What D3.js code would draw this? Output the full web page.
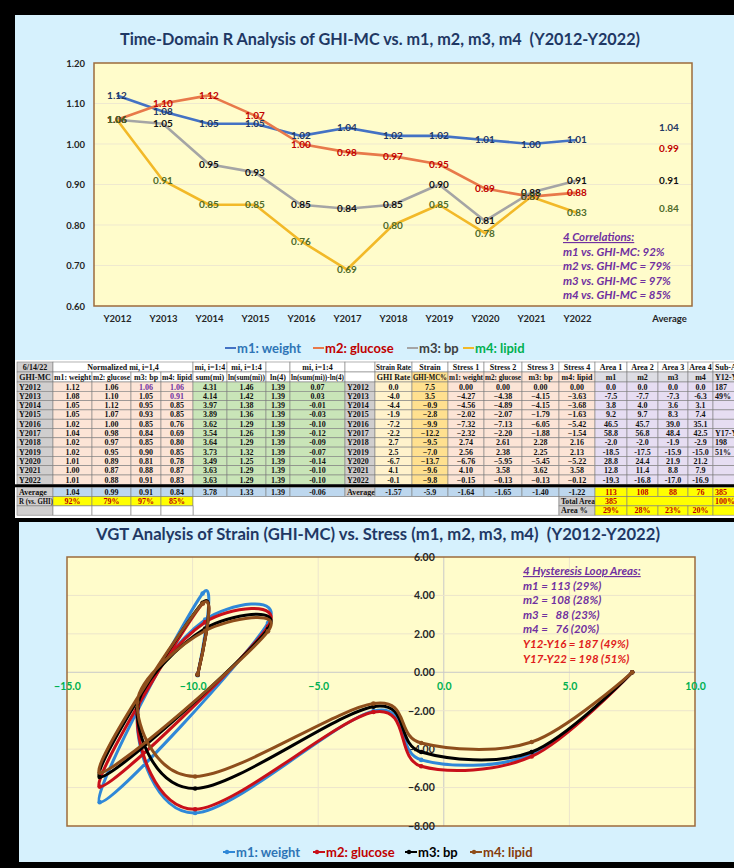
<!DOCTYPE html>
<html>
<head>
<meta charset="utf-8">
<script src="https://cdn.jsdelivr.net/npm/d3@7"></script>
<style>
  body { margin: 0; background: #000; }
  svg { display: block; }
  text { font-family: Lato, "Open Sans", sans-serif; }
  .cell { font-family: "Liberation Serif", "DejaVu Serif", serif; font-weight: bold; font-size: 8px; }
</style>
</head>
<body>
<div id="vis"></div>
<script>
// ---- data ----
var years = ["Y2012","Y2013","Y2014","Y2015","Y2016","Y2017","Y2018","Y2019","Y2020","Y2021","Y2022"];
var xCats = years.concat(["", "Average"]);
var names = ["m1: weight","m2: glucose","m3: bp","m4: lipid"];

var m1 = [1.12,1.08,1.05,1.05,1.02,1.04,1.02,1.02,1.01,1.00,1.01];
var m2 = [1.06,1.10,1.12,1.07,1.00,0.98,0.97,0.95,0.89,0.87,0.88];
var m3 = [1.06,1.05,0.95,0.93,0.85,0.84,0.85,0.90,0.81,0.88,0.91];
var m4 = [1.06,0.91,0.85,0.85,0.76,0.69,0.80,0.85,0.78,0.87,0.83];
var avgM = [1.04,0.99,0.91,0.84];
var yTicksTop = [0.6,0.7,0.8,0.9,1.0,1.1,1.2];

var sumMi   = ["4.31","4.14","3.97","3.89","3.62","3.54","3.64","3.73","3.49","3.63","3.63"];
var lnSum   = ["1.46","1.42","1.38","1.36","1.29","1.26","1.29","1.32","1.25","1.29","1.29"];
var ln4     = ["1.39","1.39","1.39","1.39","1.39","1.39","1.39","1.39","1.39","1.39","1.39"];
var lnDiff  = ["0.07","0.03","-0.01","-0.03","-0.10","-0.12","-0.09","-0.07","-0.14","-0.10","-0.10"];
var ghiRate = ["0.0","-4.0","-4.4","-1.9","-7.2","-2.2","2.7","2.5","-6.7","4.1","-0.1"];

var strain = [7.5,3.5,-0.9,-2.8,-9.9,-12.2,-9.5,-7.0,-13.7,-9.6,-9.8];
var stress1 = [0.00,-4.27,-4.56,-2.02,-7.32,-2.32,2.74,2.56,-6.76,4.10,-0.15];
var stress2 = [0.00,-4.38,-4.89,-2.07,-7.13,-2.20,2.61,2.38,-5.95,3.58,-0.13];
var stress3 = [0.00,-4.15,-4.15,-1.79,-6.05,-1.88,2.28,2.25,-5.45,3.62,-0.13];
var stress4 = [0.00,-3.63,-3.68,-1.63,-5.42,-1.54,2.16,2.13,-5.22,3.58,-0.12];

var area1 = ["0.0","-7.5","3.8","9.2","46.5","58.8","-2.0","-18.5","28.8","12.8","-19.3"];
var area2 = ["0.0","-7.7","4.0","9.7","45.7","56.8","-2.0","-17.5","24.4","11.4","-16.8"];
var area3 = ["0.0","-7.3","3.6","8.3","39.0","48.4","-1.9","-15.9","21.9","8.8","-17.0"];
var area4 = ["0.0","-6.3","3.1","7.4","35.1","42.5","-2.9","-15.0","21.2","7.9","-16.9"];
var subArea = ["187","49%","","","","Y17-Y22","198","51%","","",""];

var avgRow = ["Average","1.04","0.99","0.91","0.84","3.78","1.33","1.39","-0.06","Average",
              "-1.57","-5.9","-1.64","-1.65","-1.40","-1.22","113","108","88","76","385"];
var rRow = ["92%","79%","97%","85%"];
var areaPct = ["29%","28%","23%","20%"];

var header1 = ["6/14/22","Normalized mi, i=1,4","","","","mi, i=1:4","mi, i=1:4","","mi, i=1:4","",
               "Strain Rate","Strain","Stress 1","Stress 2","Stress 3","Stress 4","Area 1","Area 2","Area 3","Area 4","Sub-Area"];
var header2 = ["GHI-MC","m1: weight","m2: glucose","m3: bp","m4: lipid","sum(mi)","ln(sum(mi))","ln(4)","ln(sum(mi))-ln(4)","",
               "GHI Rate","GHI-MC%","m1: weight","m2: glucose","m3: bp","m4: lipid","m1","m2","m3","m4","Y12-Y16"];

var correlations = ["4 Correlations:","m1 vs. GHI-MC: 92%","m2 vs. GHI-MC = 79%","m3 vs. GHI-MC = 97%","m4 vs. GHI-MC = 85%"];
var loopAreas = ["4 Hysteresis Loop Areas:","m1 = 113 (29%)","m2 = 108 (28%)","m3 =   88 (23%)","m4 =   76 (20%)",
                 "Y12-Y16 = 187 (49%)","Y17-Y22 = 198 (51%)"];
var yTicksBot = [-8,-6,-4,-2,0,2,4,6];
var xTicksBot = [-15,-10,-5,0,5,10];

// ---- styling ----
var lineColors  = ["#4472C4","#E8794A","#A5A5A5","#F2B928"];
var labelColors = ["#1F3864","#C00000","#111111","#4E6B2A"];
var legendText  = ["#2E75B6","#C00000","#404040","#00B050"];
var vgtColors   = ["#2F88D8","#C8101A","#000000","#8E4E1C"];
var vgtLegend   = ["#2E75B6","#C00000","#000000","#843C0C"];
var panelFill = "#D6F1FD", plotFill = "#FFFCCB", plotBorder = "#9C6B3C";

var svg = d3.select("#vis").append("svg").attr("width", 734).attr("height", 868);
svg.append("rect").attr("width", 734).attr("height", 868).attr("fill", "#000");

// =============== top chart ===============
svg.append("rect").attr("x", 15).attr("y", 15).attr("width", 730).attr("height", 345).attr("fill", panelFill);
svg.append("text").attr("x", 380).attr("y", 45).attr("text-anchor", "middle")
  .attr("font-size", 17).attr("font-weight", "bold").attr("fill", "#1F3864")
  .attr("textLength", 520).attr("lengthAdjust", "spacingAndGlyphs")
  .style("white-space", "pre")
  .text("Time-Domain R Analysis of GHI-MC vs. m1, m2, m3, m4  (Y2012-Y2022)");

var tp = {left: 94, right: 692, top: 63, bottom: 306};
var x = d3.scalePoint().domain(xCats).range([tp.left, tp.right]).padding(0.5);
var y = d3.scaleLinear().domain([0.6, 1.2]).range([tp.bottom, tp.top]);

var gTop = svg.append("g");
gTop.append("rect").attr("x", tp.left).attr("y", tp.top).attr("width", tp.right - tp.left)
  .attr("height", tp.bottom - tp.top).attr("fill", plotFill);
gTop.selectAll(".hgrid").data(yTicksTop.slice(1, -1)).enter().append("line")
  .attr("x1", tp.left).attr("x2", tp.right).attr("y1", y).attr("y2", y)
  .attr("stroke", "#EFE9CF").attr("stroke-width", 1);
gTop.append("rect").attr("x", tp.left).attr("y", tp.top).attr("width", tp.right - tp.left)
  .attr("height", tp.bottom - tp.top).attr("fill", "none").attr("stroke", plotBorder).attr("stroke-width", 1.5);

var yAxis = gTop.append("g").attr("transform", "translate(" + tp.left + ",0)")
  .call(d3.axisLeft(y).tickValues(yTicksTop).tickFormat(d3.format(".2f")).tickSize(0).tickPadding(9));
var xAxis = gTop.append("g").attr("transform", "translate(0," + tp.bottom + ")")
  .call(d3.axisBottom(x).tickSize(0).tickPadding(9));
[yAxis, xAxis].forEach(function(a){
  a.select(".domain").remove();
  a.selectAll("text").attr("font-family", "Lato, sans-serif").attr("font-size", 9.5)
    .attr("font-weight", "bold").attr("fill", "#262626");
});

var series = [m1, m2, m3, m4];
var line = d3.line().x(function(d, i){ return x(years[i]); }).y(function(d){ return y(d); });
series.forEach(function(s, k){
  gTop.append("path").datum(s).attr("d", line).attr("fill", "none")
    .attr("stroke", lineColors[k]).attr("stroke-width", 2.6).attr("stroke-linejoin", "round");
});
series.forEach(function(s, k){
  gTop.selectAll(".lab" + k).data(s).enter().append("text")
    .attr("x", function(d, i){ return x(years[i]); }).attr("y", function(d){ return y(d); })
    .attr("dy", "0.35em").attr("text-anchor", "middle")
    .attr("font-size", 10).attr("font-weight", "bold").attr("fill", labelColors[k])
    .text(function(d){ return d3.format(".2f")(d); });
  gTop.append("text").attr("x", x("Average")).attr("y", y(avgM[k])).attr("dy", "0.35em")
    .attr("text-anchor", "middle").attr("font-size", 10).attr("font-weight", "bold")
    .attr("fill", labelColors[k]).text(d3.format(".2f")(avgM[k]));
});

gTop.selectAll(".corr").data(correlations).enter().append("text")
  .attr("x", 563).attr("y", function(d, i){ return 241 + i * 14.6; })
  .attr("font-size", 11.5).attr("font-weight", "bold").attr("font-style", "italic")
  .attr("fill", "#7030A0").attr("text-decoration", function(d, i){ return i === 0 ? "underline" : null; })
  .text(function(d){ return d; });

var legX = [225, 313, 407, 463];
names.forEach(function(n, k){
  var g = gTop.append("g").attr("transform", "translate(" + legX[k] + ",348)");
  g.append("line").attr("x1", 0).attr("x2", 11).attr("stroke", lineColors[k]).attr("stroke-width", 2);
  g.append("text").attr("x", 12).attr("dy", "0.35em").attr("font-size", 13).attr("font-weight", "bold")
    .attr("fill", legendText[k]).text(n);
});

// =============== table ===============
var colX = [17,53,92,131,161,193,227,266,290,345,375,412,448,484,522,559,595,627,658,688,713,750];
var rowH = 9.3, tTop = 362;
var tbl = svg.append("g");
tbl.append("rect").attr("x", 15).attr("y", 360).attr("width", 720).attr("height", 158).attr("fill", "#fff");

function cell(c, yy, h, txt, fill, color, span, anchor){
  span = span || 1;
  var x0 = colX[c], x1 = colX[c + span];
  if (c === 20) anchor = "start";
  tbl.append("rect").attr("x", x0).attr("y", yy).attr("width", x1 - x0).attr("height", h)
    .attr("fill", fill).attr("stroke", "#7f7f7f").attr("stroke-width", 0.6);
  if (txt !== "") {
    var t = tbl.append("text").attr("class", "cell")
      .attr("x", anchor === "start" ? x0 + 2 : (x0 + x1) / 2).attr("y", yy + h / 2).attr("dy", "0.36em")
      .attr("text-anchor", anchor || "middle").attr("fill", color || "#111").text(txt);
    var room = x1 - x0 - 2;
    if (c !== 20 && t.node().getComputedTextLength() > room) {
      t.attr("textLength", room).attr("lengthAdjust", "spacingAndGlyphs");
    }
  }
}

var gray = "#D0CECE", pink = "#FCE4D6", green = "#C9E5B8", lyel = "#FFF2CC", orng = "#FFE08F",
    lav = "#E6DDF2", blue = "#BDD7EE", yel = "#FFFF00", red = "#C00000", purple = "#7030A0";

// header rows
header1.forEach(function(h, c){
  if (c >= 2 && c <= 4) return;
  cell(c, tTop, 10, h, c === 0 ? gray : "#fff", "#111", c === 1 ? 4 : 1);
});
var h2fill = [gray,"#fff","#fff","#fff","#fff","#fff","#fff","#fff","#fff","#fff",lyel,orng,
              pink,pink,pink,pink,"#DDDDE4","#DDDDE4","#DDDDE4","#DDDDE4","#DDDDE4"];
header2.forEach(function(h, c){ cell(c, tTop + 10, 10, h, h2fill[c]); });

// data rows
var dataCols = [years, m1, m2, m3, m4, sumMi, lnSum, ln4, lnDiff, years, ghiRate, strain,
                stress1, stress2, stress3, stress4, area1, area2, area3, area4, subArea];
var colFill = [gray,pink,pink,pink,pink,green,green,green,green,gray,lyel,orng,
               pink,pink,pink,pink,lav,lav,lav,lav,lav];
var colFmt = [null, ".2f", ".2f", ".2f", ".2f", null, null, null, null, null, null, ".1f",
              ".2f", ".2f", ".2f", ".2f", null, null, null, null, null];
years.forEach(function(yr, r){
  var yy = tTop + 20 + r * rowH;
  dataCols.forEach(function(col, c){
    var v = col[r];
    var t = colFmt[c] ? d3.format(colFmt[c])(v) : v;
    var purpleCell = (c === 3 && r === 0) || (c === 4 && r <= 1);
    cell(c, yy, rowH, t, colFill[c], purpleCell ? purple : "#111", 1, (c === 0 || c === 9) ? "start" : "middle");
  });
});

var sepY = tTop + 20 + 11 * rowH;
tbl.append("rect").attr("x", 15).attr("y", sepY).attr("width", 720).attr("height", 3).attr("fill", "#000");

// average row
var aY = sepY + 3;
avgRow.forEach(function(v, c){
  var f = (c === 0 || c === 9) ? gray : (c >= 16 ? yel : blue);
  cell(c, aY, rowH, v, f, c >= 16 ? red : "#111", 1, (c === 0 || c === 9) ? "start" : "middle");
});
// R row
var rY = aY + rowH;
cell(0, rY, rowH, "R (vs. GHI)", gray, "#111", 1, "start");
rRow.forEach(function(v, i){ cell(1 + i, rY, rowH, v, yel, red); });
cell(5, rY, rowH * 2, "", "#fff", "#111", 10);
cell(15, rY, rowH, "Total Area", gray, "#111", 1, "start");
cell(16, rY, rowH, "385", yel, red);
cell(17, rY, rowH, "", yel, red, 3);
cell(20, rY, rowH, "100%", yel, red);
// Area % row
var pY = rY + rowH;
cell(0, pY, rowH, "", gray);
[1, 2, 3, 4].forEach(function(c){ cell(c, pY, rowH, "", "#fff"); });
cell(15, pY, rowH, "Area %", gray, "#111", 1, "start");
areaPct.forEach(function(v, i){ cell(16 + i, pY, rowH, v, yel, red); });
cell(20, pY, rowH, "", yel);

// =============== bottom chart ===============
svg.append("rect").attr("x", 19).attr("y", 522).attr("width", 720).attr("height", 340).attr("fill", panelFill);
svg.append("text").attr("x", 378).attr("y", 540).attr("text-anchor", "middle")
  .attr("font-size", 17).attr("font-weight", "bold").attr("fill", "#1F3864")
  .attr("textLength", 564).attr("lengthAdjust", "spacingAndGlyphs")
  .style("white-space", "pre")
  .text("VGT Analysis of Strain (GHI-MC) vs. Stress (m1, m2, m3, m4)  (Y2012-Y2022)");

var bp = {left: 67, right: 695, top: 557, bottom: 826};
var sx = d3.scaleLinear().domain([-15, 10]).range([bp.left, bp.right]);
var sy = d3.scaleLinear().domain([-8, 6]).range([bp.bottom, bp.top]);
var bot = svg.append("g");
bot.append("rect").attr("x", bp.left).attr("y", bp.top).attr("width", bp.right - bp.left)
  .attr("height", bp.bottom - bp.top).attr("fill", plotFill);
bot.selectAll(".vg").data(xTicksBot.slice(1, -1)).enter().append("line")
  .attr("x1", sx).attr("x2", sx).attr("y1", bp.top).attr("y2", bp.bottom)
  .attr("stroke", function(d){ return d === 0 ? "#C8C8C8" : "#ECE5CC"; }).attr("stroke-width", 1);
bot.selectAll(".hg").data(yTicksBot.slice(1, -1)).enter().append("line")
  .attr("x1", bp.left).attr("x2", bp.right).attr("y1", sy).attr("y2", sy)
  .attr("stroke", function(d){ return d === 0 ? "#C8C8C8" : "#ECE5CC"; }).attr("stroke-width", 1);
bot.append("rect").attr("x", bp.left).attr("y", bp.top).attr("width", bp.right - bp.left)
  .attr("height", bp.bottom - bp.top).attr("fill", "none").attr("stroke", plotBorder).attr("stroke-width", 1.5);

var sAxisY = bot.append("g").attr("transform", "translate(" + sx(0) + ",0)")
  .call(d3.axisLeft(sy).tickValues(yTicksBot).tickFormat(d3.format(".2f")).tickSize(0).tickPadding(9));
sAxisY.select(".domain").remove();
sAxisY.selectAll("text").attr("font-family", "Lato, sans-serif").attr("font-size", 10.5)
  .attr("font-weight", "bold").attr("fill", "#262626");
var sAxisX = bot.append("g").attr("transform", "translate(0," + sy(0) + ")")
  .call(d3.axisBottom(sx).tickValues(xTicksBot).tickFormat(d3.format(".1f")).tickSize(0).tickPadding(10));
sAxisX.select(".domain").remove();
sAxisX.selectAll("text").attr("font-family", "Lato, sans-serif").attr("font-size", 10.5)
  .attr("font-weight", "bold").attr("fill", "#00B050");

var stresses = [stress1, stress2, stress3, stress4];
var curve = d3.line().curve(d3.curveCardinal.tension(0))
  .x(function(d, i){ return sx(strain[i]); }).y(function(d){ return sy(d); });
stresses.forEach(function(s, k){
  bot.append("path").datum(s).attr("d", curve).attr("fill", "none")
    .attr("stroke", vgtColors[k]).attr("stroke-width", 3).attr("stroke-linejoin", "round");
  bot.selectAll(".mk" + k).data(s).enter().append("circle")
    .attr("cx", function(d, i){ return sx(strain[i]); }).attr("cy", function(d){ return sy(d); })
    .attr("r", 2.3).attr("fill", vgtColors[k]);
});

bot.selectAll(".loop").data(loopAreas).enter().append("text")
  .attr("x", 523).attr("y", function(d, i){ return 575 + i * 14.6; })
  .attr("font-size", 11.5).attr("font-weight", "bold").attr("font-style", "italic")
  .style("white-space", "pre")
  .attr("fill", function(d, i){ return i >= 5 ? "#E01B1B" : "#7030A0"; })
  .attr("text-decoration", function(d, i){ return i === 0 ? "underline" : null; })
  .text(function(d){ return d; });

var leg2X = [223, 313, 405, 470];
names.forEach(function(n, k){
  var g = bot.append("g").attr("transform", "translate(" + leg2X[k] + ",852)");
  g.append("line").attr("x1", 0).attr("x2", 12).attr("stroke", vgtColors[k]).attr("stroke-width", 2);
  g.append("circle").attr("cx", 4).attr("r", 2.2).attr("fill", vgtColors[k]);
  g.append("text").attr("x", 13).attr("dy", "0.35em").attr("font-size", 13).attr("font-weight", "bold")
    .attr("fill", vgtLegend[k]).text(n);
});
</script>
</body>
</html>
